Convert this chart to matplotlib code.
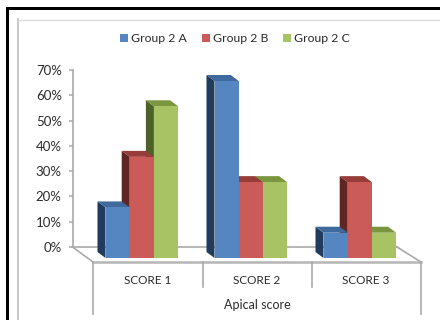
import matplotlib
matplotlib.use("Agg")
import matplotlib.pyplot as plt
from matplotlib.lines import Line2D
from matplotlib.patches import Patch, Polygon, Rectangle

categories = ["SCORE 1", "SCORE 2", "SCORE 3"]
series_names = ["Group 2 A", "Group 2 B", "Group 2 C"]
group_a = [20, 70, 10]
group_b = [40, 30, 30]
group_c = [60, 30, 10]
y_ticks = [0, 10, 20, 30, 40, 50, 60, 70]
x_title = "Apical score"

W, H = 440, 320
plt.rcParams["font.family"] = ["Lato", "DejaVu Sans"]
TXT = "#2b2b2b"
AXC = "#a9a9a9"

fig = plt.figure(figsize=(W / 100, H / 100), dpi=100, facecolor="white")

# frame of the screenshot
fig.add_artist(Rectangle((6 / W, 0), 3 / W, 1 - 7 / H, transform=fig.transFigure, color="black", lw=0))
fig.add_artist(Rectangle((6 / W, 1 - 10 / H), 1 - 6 / W, 3 / H, transform=fig.transFigure, color="black", lw=0))
fig.add_artist(Line2D([17.5 / W, 17.5 / W], [0, 1 - 19 / H], transform=fig.transFigure, color="#bdbdbd", lw=1.2))
fig.add_artist(Line2D([17.5 / W, 1], [1 - 19.5 / H, 1 - 19.5 / H], transform=fig.transFigure, color="#dcdcdc", lw=1))

L, R, T, B = 72.5, 397.0, 70.0, 247.0
ax = fig.add_axes([L / W, 1 - B / H, (R - L) / W, (B - T) / H])
ax.patch.set_alpha(0)
CAT0, CATW = 148.0, 109.0
ax.set_xlim((L - CAT0) / CATW, (R - CAT0) / CATW)
ax.set_ylim(0, 70)

px_y = (B - T) / 70         # pixels per percent


def yd(py):
    return (B - py) / px_y


def xd(px):
    return (px - CAT0) / CATW


for s in ("top", "right"):
    ax.spines[s].set_visible(False)
for s in ("left", "bottom"):
    ax.spines[s].set_color(AXC)
    ax.spines[s].set_linewidth(1.2)

ax.set_yticks(y_ticks)
ax.set_yticklabels([f"{v}%" for v in y_ticks], fontsize=9.5, color=TXT)
ax.tick_params(axis="y", length=3.2, width=1.1, color=AXC, pad=4.5)
ax.set_xticks(range(len(categories)))
ax.set_xticklabels(categories, fontsize=8.5, color=TXT)
ax.tick_params(axis="x", length=0, pad=20)
ax.set_xlabel(x_title, fontsize=9, color=TXT)
ax.xaxis.set_label_coords((257 - L) / (R - L), -(305 - B) / (B - T))
ax.xaxis.label.set_verticalalignment("center")

# floor and category frame
lk = dict(color=AXC, lw=1.2, clip_on=False, zorder=1)
front = yd(262)
ax.plot([xd(L), xd(93)], [0, front], **lk)
ax.plot([xd(R), xd(421)], [0, front], **lk)
ax.plot([xd(93), xd(421)], [front, front], color="#b5b5b5", lw=1.8, clip_on=False, zorder=1)
for px, end in ((93, 314), (203, 287), (312, 287), (421, 314)):
    ax.plot([xd(px), xd(px)], [front, yd(end)], **lk)

# 3-D columns
BASE = yd(258)
BW = 24.2 / CATW
DX = 8.0 / CATW
DY = 6.0 / px_y
START = (105.5 - CAT0) / CATW
series = [group_a, group_b, group_c]
front_c = ["#5586C1", "#CB5B58", "#A8C364"]
side_c = ["#203B5C", "#5E2522", "#4E6128"]
top_c = ["#3E6A9E", "#973C39", "#7A973F"]

for i in (2, 1, 0):
    for k, v in enumerate(series[i]):
        x0 = k + START + i * BW
        x1 = x0 + BW
        yt = BASE + v
        ax.add_patch(Polygon([(x0, BASE), (x0 - DX, BASE + DY), (x0 - DX, yt + DY), (x0, yt)],
                             fc=side_c[i], ec="none", clip_on=False, zorder=2 + (2 - i) * 3))
        ax.add_patch(Polygon([(x0, yt), (x0 - DX, yt + DY), (x1 - DX, yt + DY), (x1, yt)],
                             fc=top_c[i], ec="none", clip_on=False, zorder=3 + (2 - i) * 3))
    ax.bar([k + START + i * BW for k in range(3)], series[i], width=BW, bottom=BASE, align="edge",
           color=front_c[i], clip_on=False, zorder=4 + (2 - i) * 3)

handles = [Patch(fc=c, ec="none") for c in front_c]
leg = fig.legend(handles, series_names, loc="center", bbox_to_anchor=(235 / W, 1 - 38.5 / H),
                 ncol=3, frameon=False, fontsize=8.8, labelcolor=TXT, handlelength=0.65, handleheight=0.65,
                 handletextpad=0.25, columnspacing=1.2, borderpad=0, borderaxespad=0)

fig.savefig("out.png", dpi=100, facecolor="white")
